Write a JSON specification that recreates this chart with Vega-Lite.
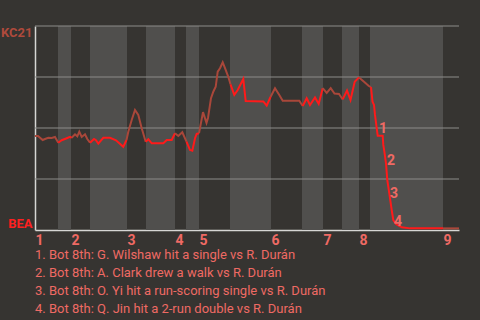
{
  "$schema": "https://vega.github.io/schema/vega-lite/v6.json",
  "width": 424,
  "height": 204,
  "autosize": {"type": "none"},
  "padding": {"left": 35, "top": 26, "right": 21, "bottom": 90},
  "background": "#363431",
  "config": {
    "view": {"stroke": null},
    "font": "Roboto",
    "axisX": {
      "ticks": false, "grid": false, "domainColor": "#d6d6d4", "domainWidth": 1.5,
      "labelColor": "#ef6a64", "labelFont": "Roboto", "labelFontWeight": "bold", "labelFontSize": 14,
      "labelPadding": 3, "labelAlign": "left", "labelOffset": 0, "labelOverlap": false,
      "labelFlush": false, "labelBound": false, "zindex": 1
    },
    "axisY": {
      "ticks": false, "grid": false, "domainColor": "#d6d6d4", "domainWidth": 1.5,
      "labelFont": "Roboto", "labelFontWeight": "bold", "labelFontSize": 13, "labelPadding": 3, "zindex": 1
    }
  },
  "title": {
    "text": [
      "1. Bot 8th: G. Wilshaw hit a single vs R. Durán",
      "2. Bot 8th: A. Clark drew a walk vs R. Durán",
      "3. Bot 8th: O. Yi hit a run-scoring single vs R. Durán",
      "4. Bot 8th: Q. Jin hit a 2-run double vs R. Durán"
    ],
    "orient": "bottom",
    "anchor": "start",
    "frame": "group",
    "align": "left",
    "color": "#ef6a64",
    "fontSize": 13,
    "fontWeight": "normal",
    "font": "Roboto",
    "lineHeight": 18,
    "offset": 2
  },
  "datasets": {
    "bands": [
      {"t": 23, "t2": 36}, {"t": 55, "t2": 92}, {"t": 111, "t2": 140},
      {"t": 151, "t2": 164}, {"t": 195, "t2": 236}, {"t": 267, "t2": 288},
      {"t": 307, "t2": 324}, {"t": 335, "t2": 408}
    ],
    "grid": [{"p": 0.25}, {"p": 0.5}, {"p": 0.75}, {"p": 1}],
    "wp": [
      {"seg": "T1", "team": "K", "t": 0, "p": 0.461},
      {"seg": "T1", "team": "K", "t": 3, "p": 0.461},
      {"seg": "T1", "team": "K", "t": 7.7, "p": 0.441},
      {"seg": "T1", "team": "K", "t": 10, "p": 0.446},
      {"seg": "T1", "team": "K", "t": 13.3, "p": 0.452},
      {"seg": "T1", "team": "K", "t": 16.7, "p": 0.451},
      {"seg": "T1", "team": "K", "t": 20, "p": 0.456},
      {"seg": "T1", "team": "K", "t": 23.3, "p": 0.428},
      {"seg": "B1", "team": "B", "t": 23.3, "p": 0.428},
      {"seg": "B1", "team": "B", "t": 26.7, "p": 0.44},
      {"seg": "B1", "team": "B", "t": 31.7, "p": 0.45},
      {"seg": "B1", "team": "B", "t": 35, "p": 0.457},
      {"seg": "B1", "team": "B", "t": 36.7, "p": 0.452},
      {"seg": "T2", "team": "K", "t": 36.7, "p": 0.452},
      {"seg": "T2", "team": "K", "t": 40, "p": 0.469},
      {"seg": "T2", "team": "K", "t": 42.3, "p": 0.459},
      {"seg": "T2", "team": "K", "t": 44.3, "p": 0.482},
      {"seg": "T2", "team": "K", "t": 46.7, "p": 0.456},
      {"seg": "T2", "team": "K", "t": 50, "p": 0.469},
      {"seg": "T2", "team": "K", "t": 52.3, "p": 0.446},
      {"seg": "T2", "team": "K", "t": 55, "p": 0.428},
      {"seg": "B2", "team": "B", "t": 55, "p": 0.428},
      {"seg": "B2", "team": "B", "t": 59, "p": 0.446},
      {"seg": "B2", "team": "B", "t": 61, "p": 0.44},
      {"seg": "B2", "team": "B", "t": 63.3, "p": 0.423},
      {"seg": "B2", "team": "B", "t": 68.3, "p": 0.452},
      {"seg": "B2", "team": "B", "t": 75, "p": 0.452},
      {"seg": "B2", "team": "B", "t": 81, "p": 0.44},
      {"seg": "B2", "team": "B", "t": 88.3, "p": 0.408},
      {"seg": "B2", "team": "B", "t": 91.5, "p": 0.441},
      {"seg": "T3", "team": "K", "t": 91.5, "p": 0.441},
      {"seg": "T3", "team": "K", "t": 93.3, "p": 0.482},
      {"seg": "T3", "team": "K", "t": 96.7, "p": 0.539},
      {"seg": "T3", "team": "K", "t": 100, "p": 0.588},
      {"seg": "T3", "team": "K", "t": 103.3, "p": 0.564},
      {"seg": "T3", "team": "K", "t": 106.7, "p": 0.499},
      {"seg": "T3", "team": "K", "t": 110.7, "p": 0.433},
      {"seg": "B3", "team": "B", "t": 110.7, "p": 0.433},
      {"seg": "B3", "team": "B", "t": 113.3, "p": 0.445},
      {"seg": "B3", "team": "B", "t": 116.7, "p": 0.425},
      {"seg": "B3", "team": "B", "t": 128.3, "p": 0.425},
      {"seg": "B3", "team": "B", "t": 131.7, "p": 0.441},
      {"seg": "B3", "team": "B", "t": 136.7, "p": 0.441},
      {"seg": "B3", "team": "B", "t": 140, "p": 0.474},
      {"seg": "T4", "team": "K", "t": 140, "p": 0.474},
      {"seg": "T4", "team": "K", "t": 143.3, "p": 0.461},
      {"seg": "T4", "team": "K", "t": 147.3, "p": 0.479},
      {"seg": "T4", "team": "K", "t": 151.5, "p": 0.433},
      {"seg": "B4", "team": "B", "t": 151.5, "p": 0.433},
      {"seg": "B4", "team": "B", "t": 155, "p": 0.392},
      {"seg": "B4", "team": "B", "t": 157.3, "p": 0.389},
      {"seg": "B4", "team": "B", "t": 160, "p": 0.45},
      {"seg": "B4", "team": "B", "t": 161.7, "p": 0.471},
      {"seg": "B4", "team": "B", "t": 164, "p": 0.474},
      {"seg": "T5", "team": "K", "t": 164, "p": 0.474},
      {"seg": "T5", "team": "K", "t": 168, "p": 0.578},
      {"seg": "T5", "team": "K", "t": 171.5, "p": 0.525},
      {"seg": "T5", "team": "K", "t": 173, "p": 0.549},
      {"seg": "T5", "team": "K", "t": 176, "p": 0.646},
      {"seg": "T5", "team": "K", "t": 178.3, "p": 0.678},
      {"seg": "T5", "team": "K", "t": 180.7, "p": 0.702},
      {"seg": "T5", "team": "K", "t": 182.7, "p": 0.776},
      {"seg": "T5", "team": "K", "t": 185, "p": 0.793},
      {"seg": "T5", "team": "K", "t": 187.7, "p": 0.822},
      {"seg": "T5", "team": "K", "t": 190, "p": 0.793},
      {"seg": "T5", "team": "K", "t": 193.3, "p": 0.751},
      {"seg": "T5", "team": "K", "t": 195.5, "p": 0.714},
      {"seg": "B5", "team": "B", "t": 195.5, "p": 0.714},
      {"seg": "B5", "team": "B", "t": 199.3, "p": 0.662},
      {"seg": "B5", "team": "B", "t": 202.7, "p": 0.686},
      {"seg": "B5", "team": "B", "t": 208.3, "p": 0.74},
      {"seg": "B5", "team": "B", "t": 210.7, "p": 0.632},
      {"seg": "B5", "team": "B", "t": 228.3, "p": 0.63},
      {"seg": "B5", "team": "B", "t": 231.7, "p": 0.61},
      {"seg": "B5", "team": "B", "t": 235.5, "p": 0.652},
      {"seg": "T6", "team": "K", "t": 235.5, "p": 0.652},
      {"seg": "T6", "team": "K", "t": 240, "p": 0.695},
      {"seg": "T6", "team": "K", "t": 244.3, "p": 0.662},
      {"seg": "T6", "team": "K", "t": 247.7, "p": 0.634},
      {"seg": "T6", "team": "K", "t": 264.3, "p": 0.634},
      {"seg": "T6", "team": "K", "t": 267.7, "p": 0.608},
      {"seg": "B6", "team": "B", "t": 267.7, "p": 0.608},
      {"seg": "B6", "team": "B", "t": 271.7, "p": 0.646},
      {"seg": "B6", "team": "B", "t": 275, "p": 0.613},
      {"seg": "B6", "team": "B", "t": 280, "p": 0.65},
      {"seg": "B6", "team": "B", "t": 283.7, "p": 0.618},
      {"seg": "B6", "team": "B", "t": 287.7, "p": 0.695},
      {"seg": "T7", "team": "K", "t": 287.7, "p": 0.695},
      {"seg": "T7", "team": "K", "t": 291.7, "p": 0.672},
      {"seg": "T7", "team": "K", "t": 295.7, "p": 0.695},
      {"seg": "T7", "team": "K", "t": 299.5, "p": 0.669},
      {"seg": "T7", "team": "K", "t": 304, "p": 0.667},
      {"seg": "T7", "team": "K", "t": 307.7, "p": 0.64},
      {"seg": "B7", "team": "B", "t": 307.7, "p": 0.64},
      {"seg": "B7", "team": "B", "t": 312, "p": 0.684},
      {"seg": "B7", "team": "B", "t": 315.5, "p": 0.637},
      {"seg": "B7", "team": "B", "t": 319.7, "p": 0.727},
      {"seg": "B7", "team": "B", "t": 324, "p": 0.748},
      {"seg": "T8", "team": "K", "t": 324, "p": 0.748},
      {"seg": "T8", "team": "K", "t": 329, "p": 0.727},
      {"seg": "T8", "team": "K", "t": 333.5, "p": 0.707},
      {"seg": "T8", "team": "K", "t": 336, "p": 0.7},
      {"seg": "B8", "team": "B", "t": 336, "p": 0.7},
      {"seg": "B8", "team": "B", "t": 337.5, "p": 0.629},
      {"seg": "B8", "team": "B", "t": 339, "p": 0.613},
      {"seg": "B8", "team": "B", "t": 340, "p": 0.564},
      {"seg": "B8", "team": "B", "t": 341.7, "p": 0.499},
      {"seg": "B8", "team": "B", "t": 342.7, "p": 0.462},
      {"seg": "B8", "team": "B", "t": 347.7, "p": 0.462},
      {"seg": "B8", "team": "B", "t": 348.3, "p": 0.417},
      {"seg": "B8", "team": "B", "t": 349.3, "p": 0.387},
      {"seg": "B8", "team": "B", "t": 351, "p": 0.327},
      {"seg": "B8", "team": "B", "t": 352.3, "p": 0.245},
      {"seg": "B8", "team": "B", "t": 354.3, "p": 0.18},
      {"seg": "B8", "team": "B", "t": 356.7, "p": 0.098},
      {"seg": "B8", "team": "B", "t": 358.3, "p": 0.049},
      {"seg": "B8", "team": "B", "t": 361, "p": 0.029},
      {"seg": "B8", "team": "B", "t": 366.7, "p": 0.013},
      {"seg": "B8", "team": "B", "t": 375, "p": 0.008},
      {"seg": "B8", "team": "B", "t": 408, "p": 0.008},
      {"seg": "T9", "team": "K", "t": 408, "p": 0.008},
      {"seg": "T9", "team": "K", "t": 424, "p": 0.008}
    ],
    "notes": [
      {"label": "1", "t": 344, "p": 0.493},
      {"label": "2", "t": 352, "p": 0.338},
      {"label": "3", "t": 355, "p": 0.176},
      {"label": "4", "t": 359, "p": 0.037}
    ]
  },
  "layer": [
    {
      "data": {"name": "bands"},
      "mark": {"type": "rect", "color": "#504f4d"},
      "encoding": {
        "x": {
          "field": "t", "type": "quantitative",
          "scale": {"domain": [0, 424], "nice": false, "zero": false},
          "axis": {
            "values": [0, 36, 92, 140, 164, 236, 288, 324, 408],
            "labelExpr": "'' + (indexof([0, 36, 92, 140, 164, 236, 288, 324, 408], datum.value) + 1)",
            "title": null
          }
        },
        "x2": {"field": "t2"}
      }
    },
    {
      "data": {"name": "grid"},
      "mark": {"type": "rule", "color": "#8c8c8a", "strokeWidth": 1},
      "encoding": {
        "y": {
          "field": "p", "type": "quantitative",
          "scale": {"domain": [0, 1], "nice": false},
          "axis": {
            "values": [0, 1],
            "labelExpr": "datum.value == 1 ? 'KC21' : 'BEA'",
            "labelColor": {"condition": {"test": "datum.value == 1", "value": "#b04a3c"}, "value": "#ff2020"},
            "labelBaseline": {"condition": {"test": "datum.value == 1", "value": "top"}, "value": "bottom"},
            "title": null
          }
        }
      }
    },
    {
      "data": {"name": "wp"},
      "mark": {"type": "line", "strokeWidth": 2, "interpolate": "linear"},
      "encoding": {
        "x": {"field": "t", "type": "quantitative", "title": null},
        "y": {"field": "p", "type": "quantitative", "title": null},
        "color": {"field": "team", "type": "nominal", "scale": {"domain": ["K", "B"], "range": ["#a9473a", "#ff1a1a"]}, "legend": null},
        "detail": {"field": "seg", "type": "nominal"}
      }
    },
    {
      "data": {"name": "notes"},
      "mark": {"type": "text", "align": "left", "baseline": "middle", "fontWeight": "bold", "fontSize": 14, "font": "Roboto", "color": "#ef6a64"},
      "encoding": {
        "x": {"field": "t", "type": "quantitative", "title": null},
        "y": {"field": "p", "type": "quantitative", "title": null},
        "text": {"field": "label"}
      }
    }
  ]
}
